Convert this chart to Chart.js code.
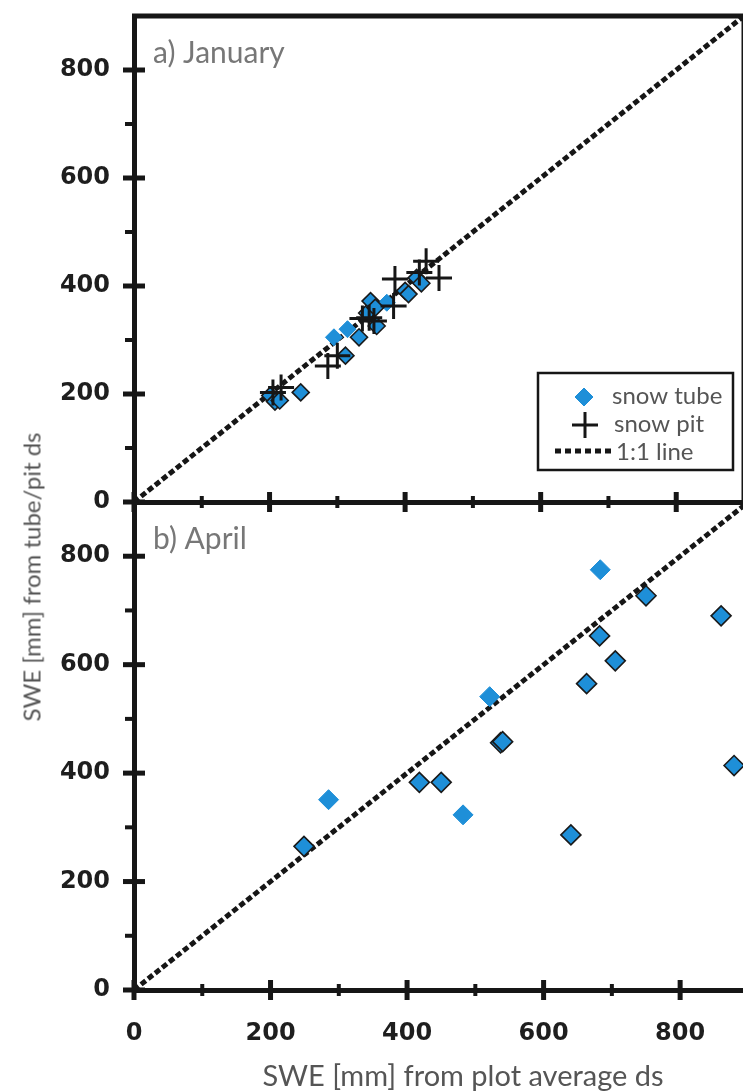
<!DOCTYPE html>
<html>
<head>
<meta charset="utf-8">
<script src="https://cdn.jsdelivr.net/npm/chart.js"></script>
<style>
  body { margin: 0; background: #fff; overflow: hidden; width: 743px; height: 1092px; position: relative; }
  canvas { position: absolute; left: 0; }
  #cA { top: 0; }
  #cB { top: 490px; }
  .ttl { position: absolute; font-family: Lato, sans-serif; color: #555; white-space: nowrap; }
  #ytitle { left: 31px; top: 577px; font-size: 24px; transform: translate(-50%, -50%) rotate(-90deg); }
  #xtitle { left: 463px; top: 1074px; font-size: 29px; transform: translate(-50%, -50%); }
</style>
</head>
<body>
<canvas id="cA" width="760" height="520"></canvas>
<canvas id="cB" width="760" height="602"></canvas>
<div class="ttl" id="ytitle">SWE [mm] from tube/pit ds</div>
<div class="ttl" id="xtitle">SWE [mm] from plot average ds</div>
<script>
// a) January
var janTubeX = [201, 208, 215, 246, 312, 332, 344, 349, 356, 358, 400, 405, 417, 424];
var janTubeY = [197, 186, 188, 203, 271, 305, 350, 372, 360, 326, 391, 385, 415, 405];
var janTubeLightX = [295, 315, 373];
var janTubeLightY = [305, 320, 369];
var janPitX = [205, 217, 286, 300, 337, 347, 354, 383, 385, 421, 431, 450];
var janPitY = [203, 212, 252, 271, 340, 341, 335, 363, 413, 425, 446, 415];
// b) April
var aprTubeX = [249, 418, 450, 537, 540, 640, 663, 682, 705, 750, 860, 879];
var aprTubeY = [265, 383, 383, 456, 458, 286, 565, 653, 607, 727, 690, 414];
var aprTubeLightX = [285, 482, 521, 683];
var aprTubeLightY = [351, 323, 541, 775];
// 1:1 line
var lineXY = [0, 900];
var tickValues = [0, 100, 200, 300, 400, 500, 600, 700, 800, 900];

var BLUE = '#1e8fd8';
var INK = '#161616';

function pts(xs, ys) {
	return xs.map(function(x, i) { return {x: x, y: ys[i]}; });
}

// crossing tick marks, top/right frame, panel label and legend
var frame = {
	id: 'frame',
	afterDraw: function(chart, args, o) {
		var ctx = chart.ctx, a = chart.chartArea;
		var x = chart.scales.x, y = chart.scales.y;
		ctx.save();
		ctx.strokeStyle = INK;
		ctx.lineWidth = 5;
		ctx.beginPath();
		if (o.top) { ctx.moveTo(a.left - 2, a.top); ctx.lineTo(a.right, a.top); }
		ctx.moveTo(a.right, a.top); ctx.lineTo(a.right, a.bottom);
		ctx.stroke();
		tickValues.forEach(function(v) {
			var major = v % 200 === 0;
			var px = x.getPixelForValue(v);
			ctx.lineWidth = major ? 5 : 4;
			ctx.beginPath();
			var h = major ? 10 : 6;
			ctx.moveTo(px, a.bottom - h); ctx.lineTo(px, a.bottom + h);
			ctx.stroke();
			if (v < 900) {
				var py = y.getPixelForValue(v);
				ctx.beginPath();
				if (major) { ctx.moveTo(a.left - 11, py); ctx.lineTo(a.left + 11, py); }
				else { ctx.moveTo(a.left - 9, py); ctx.lineTo(a.left, py); }
				ctx.stroke();
			}
		});
		ctx.fillStyle = '#777';
		ctx.font = '30px Lato, sans-serif';
		ctx.textBaseline = 'alphabetic';
		ctx.fillText(o.label, a.left + 19, a.top + 47);
		if (o.legend) {
			var lx = 538, ly = 373;
			ctx.lineWidth = 2.5;
			ctx.strokeRect(lx, ly, 195, 97);
			ctx.fillStyle = BLUE;
			ctx.strokeStyle = BLUE;
			ctx.lineWidth = 1;
			Chart.helpers.drawPoint(ctx, {pointStyle: 'rectRot', radius: 9, borderWidth: 1}, 584, 397);
			ctx.strokeStyle = INK;
			ctx.lineWidth = 3;
			Chart.helpers.drawPoint(ctx, {pointStyle: 'cross', radius: 13, borderWidth: 3}, 585, 425);
			ctx.lineWidth = 5;
			ctx.setLineDash([6, 4]);
			ctx.beginPath(); ctx.moveTo(555, 451); ctx.lineTo(613, 451); ctx.stroke();
			ctx.setLineDash([]);
			ctx.fillStyle = '#555';
			ctx.font = '24px Lato, sans-serif';
			ctx.textBaseline = 'middle';
			ctx.fillText('snow tube', 612, 396);
			ctx.fillText('snow pit', 614, 424);
			ctx.fillText('1:1 line', 616, 452);
		}
		ctx.restore();
	}
};

function makeChart(id, tube, tubeLight, pit, r, opts) {
	var datasets = [];
	if (pit) {
		datasets.push({label: 'snow pit', data: pit, pointStyle: 'cross', pointRadius: 13,
			borderColor: INK, borderWidth: 3, backgroundColor: INK});
	}
	datasets.push({label: 'snow tube', data: tube, pointStyle: 'rectRot', pointRadius: r,
		backgroundColor: BLUE, borderColor: '#1a1a1a', borderWidth: 1.6});
	datasets.push({label: 'snow tube ', data: tubeLight, pointStyle: 'rectRot', pointRadius: r,
		backgroundColor: BLUE, borderColor: BLUE, borderWidth: 1});
	datasets.push({type: 'line', label: '1:1 line', data: pts(lineXY, lineXY), borderColor: INK,
		borderWidth: 5, borderDash: [6, 3], pointRadius: 0, fill: false});
	return new Chart(document.getElementById(id), {
		type: 'scatter',
		data: {datasets: datasets},
		options: {
			responsive: false,
			animation: false,
			layout: {padding: {top: opts.padTop, right: 9, left: 0, bottom: 0}},
			plugins: {legend: {display: false}, tooltip: {enabled: false},
				frame: {top: opts.top, label: opts.label, legend: opts.legend}},
			scales: {
				x: {
					type: 'linear', min: 0, max: 900,
					afterFit: function(s) { s.height = opts.xh; s.paddingLeft = 0; s.paddingRight = 0; },
					grid: {display: false, drawTicks: false},
					border: {display: true, width: 5, color: INK},
					ticks: {display: opts.xlabels, stepSize: 100, autoSkip: false, padding: 29,
						color: '#1e1e1e', font: {family: 'DejaVu Sans', weight: 'bold', size: 24},
						callback: function(v) { return (v % 200 === 0 && v < 900) ? String(v) : ''; }}
				},
				y: {
					type: 'linear', min: 0, max: 900,
					afterFit: function(s) { s.width = 134; s.paddingTop = 0; s.paddingBottom = 0; },
					grid: {display: false, drawTicks: false},
					border: {display: true, width: 5, color: INK},
					ticks: {stepSize: 100, autoSkip: false, padding: 24,
						color: '#1e1e1e', font: {family: 'DejaVu Sans', weight: 'bold', size: 24},
						callback: function(v) { return (v % 200 === 0 && v < 900) ? String(v) : ''; }}
				}
			}
		},
		plugins: [frame]
	});
}

makeChart('cA', pts(janTubeX, janTubeY), pts(janTubeLightX, janTubeLightY), pts(janPitX, janPitY), 8.5,
	{padTop: 15, xh: 18, xlabels: false, top: true, label: 'a) January', legend: true});
makeChart('cB', pts(aprTubeX, aprTubeY), pts(aprTubeLightX, aprTubeLightY), null, 10,
	{padTop: 12, xh: 102, xlabels: true, top: false, label: 'b) April', legend: false});
</script>
</body>
</html>
